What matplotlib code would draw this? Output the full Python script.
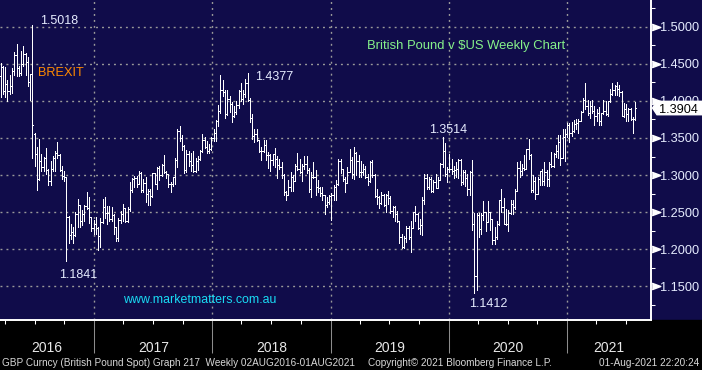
import matplotlib
matplotlib.use("Agg")
import matplotlib.pyplot as plt
import matplotlib.dates as mdates
from matplotlib import font_manager
from matplotlib.patches import Polygon, Rectangle
from matplotlib.ticker import FormatStrFormatter
from matplotlib.transforms import blended_transform_factory, IdentityTransform, ScaledTranslation
import numpy as np
import pandas as pd

# ---------------- data (weekly OHLC, weeks ending Friday) ----------------
first_week = "2016-03-18"

ohlc_2016 = [
    (1.4340, 1.4515, 1.4055, 1.4460), (1.4460, 1.4465, 1.4087, 1.4128), (1.4128, 1.4459, 1.4055, 1.4225),
    (1.4225, 1.4285, 1.4005, 1.4135), (1.4135, 1.4345, 1.4090, 1.4195), (1.4195, 1.4445, 1.4110, 1.4405),
    (1.4405, 1.4660, 1.4355, 1.4615), (1.4615, 1.4770, 1.4330, 1.4440), (1.4440, 1.4470, 1.4330, 1.4370),
    (1.4370, 1.4670, 1.4355, 1.4500), (1.4500, 1.4740, 1.4475, 1.4630), (1.4630, 1.4640, 1.4350, 1.4520),
    (1.4520, 1.4590, 1.4205, 1.4255), (1.4255, 1.4365, 1.4013, 1.4360), (1.4360, 1.5018, 1.3229, 1.3680),
    (1.3560, 1.3565, 1.3122, 1.3280), (1.3280, 1.3380, 1.2798, 1.2950), (1.2950, 1.3480, 1.2930, 1.3185),
    (1.3185, 1.3290, 1.3060, 1.3110), (1.3110, 1.3245, 1.3060, 1.3230), (1.3230, 1.3370, 1.3020, 1.3070),
    (1.3070, 1.3075, 1.2865, 1.2920), (1.2920, 1.3185, 1.2865, 1.3080), (1.3080, 1.3255, 1.3055, 1.3230),
    (1.3230, 1.3325, 1.3055, 1.3300), (1.3300, 1.3445, 1.3225, 1.3265), (1.3265, 1.3285, 1.3050, 1.3070),
    (1.3070, 1.3120, 1.2945, 1.2990), (1.2990, 1.3055, 1.2915, 1.2970), (1.2970, 1.2975, 1.1841, 1.2430),
    (1.2430, 1.2450, 1.2085, 1.2190), (1.2190, 1.2340, 1.2135, 1.2230), (1.2230, 1.2295, 1.2080, 1.2190),
    (1.2190, 1.2505, 1.2180, 1.2480), (1.2480, 1.2675, 1.2300, 1.2590), (1.2590, 1.2595, 1.2305, 1.2385),
    (1.2385, 1.2525, 1.2320, 1.2475), (1.2475, 1.2600, 1.2385, 1.2585), (1.2585, 1.2775, 1.2545, 1.2555),
    (1.2555, 1.2705, 1.2350, 1.2430), (1.2430, 1.2440, 1.2250, 1.2280), (1.2280, 1.2390, 1.2200, 1.2340),
]

ohlc_2017 = [
    (1.2340, 1.2430, 1.2200, 1.2280), (1.2280, 1.2300, 1.1986, 1.2180), (1.2180, 1.2415, 1.2030, 1.2370),
    (1.2370, 1.2675, 1.2360, 1.2565), (1.2565, 1.2705, 1.2420, 1.2485), (1.2485, 1.2580, 1.2345, 1.2485),
    (1.2485, 1.2585, 1.2385, 1.2410), (1.2410, 1.2570, 1.2385, 1.2460), (1.2460, 1.2480, 1.2210, 1.2295),
    (1.2295, 1.2300, 1.2110, 1.2155), (1.2155, 1.2415, 1.2110, 1.2400), (1.2400, 1.2510, 1.2355, 1.2475),
    (1.2475, 1.2615, 1.2375, 1.2550), (1.2550, 1.2555, 1.2365, 1.2380), (1.2380, 1.2565, 1.2365, 1.2540),
    (1.2540, 1.2905, 1.2515, 1.2805), (1.2805, 1.2965, 1.2775, 1.2950), (1.2950, 1.2990, 1.2845, 1.2960),
    (1.2960, 1.2990, 1.2845, 1.2885), (1.2885, 1.3050, 1.2875, 1.3030), (1.3030, 1.3045, 1.2775, 1.2800),
    (1.2800, 1.2945, 1.2765, 1.2890), (1.2890, 1.2975, 1.2635, 1.2740), (1.2740, 1.2810, 1.2590, 1.2780),
    (1.2780, 1.2815, 1.2590, 1.2720), (1.2720, 1.3030, 1.2710, 1.3025), (1.3025, 1.3030, 1.2880, 1.2885),
    (1.2885, 1.3110, 1.2810, 1.3095), (1.3095, 1.3125, 1.2930, 1.3000), (1.3000, 1.3155, 1.2990, 1.3135),
    (1.3135, 1.3265, 1.3030, 1.3035), (1.3035, 1.3060, 1.2955, 1.3010), (1.3010, 1.3015, 1.2840, 1.2875),
    (1.2875, 1.2905, 1.2775, 1.2880), (1.2880, 1.2980, 1.2855, 1.2975), (1.2975, 1.3225, 1.2885, 1.3200),
    (1.3200, 1.3615, 1.3110, 1.3590), (1.3590, 1.3655, 1.3455, 1.3495), (1.3495, 1.3540, 1.3340, 1.3395),
    (1.3395, 1.3400, 1.3025, 1.3065), (1.3065, 1.3340, 1.3035, 1.3285), (1.3285, 1.3320, 1.3120, 1.3190),
    (1.3190, 1.3300, 1.3060, 1.3135), (1.3135, 1.3320, 1.3040, 1.3060), (1.3060, 1.3225, 1.3040, 1.3190),
    (1.3190, 1.3260, 1.3070, 1.3210), (1.3210, 1.3335, 1.3200, 1.3330), (1.3330, 1.3550, 1.3310, 1.3475),
    (1.3475, 1.3515, 1.3365, 1.3385), (1.3385, 1.3460, 1.3300, 1.3325), (1.3325, 1.3425, 1.3300, 1.3355),
    (1.3355, 1.3515, 1.3340, 1.3505),
]

ohlc_2018 = [
    (1.3505, 1.3615, 1.3460, 1.3570), (1.3570, 1.3745, 1.3460, 1.3725), (1.3725, 1.3945, 1.3655, 1.3860),
    (1.3860, 1.4345, 1.3835, 1.4150), (1.4150, 1.4285, 1.4065, 1.4115), (1.4115, 1.4145, 1.3765, 1.3820),
    (1.3820, 1.4145, 1.3815, 1.4025), (1.4025, 1.4070, 1.3855, 1.3960), (1.3960, 1.3985, 1.3710, 1.3800),
    (1.3800, 1.3930, 1.3785, 1.3850), (1.3850, 1.4000, 1.3820, 1.3940), (1.3940, 1.4150, 1.3910, 1.4140),
    (1.4140, 1.4245, 1.3995, 1.4025), (1.4025, 1.4150, 1.3965, 1.4090), (1.4090, 1.4295, 1.4050, 1.4235),
    (1.4235, 1.4377, 1.4005, 1.4010), (1.4010, 1.4040, 1.3710, 1.3775), (1.3775, 1.3830, 1.3485, 1.3530),
    (1.3530, 1.3615, 1.3450, 1.3550), (1.3550, 1.3615, 1.3455, 1.3470), (1.3470, 1.3475, 1.3305, 1.3320),
    (1.3320, 1.3380, 1.3205, 1.3325), (1.3325, 1.3475, 1.3310, 1.3410), (1.3410, 1.3475, 1.3205, 1.3265),
    (1.3265, 1.3315, 1.3100, 1.3265), (1.3265, 1.3290, 1.3050, 1.3205), (1.3205, 1.3285, 1.3130, 1.3280),
    (1.3280, 1.3365, 1.3105, 1.3215), (1.3215, 1.3260, 1.2955, 1.3135), (1.3135, 1.3215, 1.3075, 1.3105),
    (1.3105, 1.3175, 1.2955, 1.3005), (1.3005, 1.3015, 1.2725, 1.2770), (1.2770, 1.2790, 1.2660, 1.2735),
    (1.2735, 1.2935, 1.2725, 1.2840), (1.2840, 1.3045, 1.2785, 1.2970), (1.2970, 1.3000, 1.2785, 1.2925),
    (1.2925, 1.3145, 1.2920, 1.3125), (1.3125, 1.3300, 1.3070, 1.3080), (1.3080, 1.3215, 1.3030, 1.3035),
    (1.3035, 1.3145, 1.2920, 1.3120), (1.3120, 1.3260, 1.3080, 1.3150), (1.3150, 1.3255, 1.3025, 1.3070),
    (1.3070, 1.3090, 1.2775, 1.2815), (1.2815, 1.3040, 1.2710, 1.2975), (1.2975, 1.3175, 1.2955, 1.2970),
    (1.2970, 1.3070, 1.2725, 1.2835), (1.2835, 1.2930, 1.2775, 1.2820), (1.2820, 1.2840, 1.2715, 1.2760),
    (1.2760, 1.2840, 1.2660, 1.2730), (1.2730, 1.2735, 1.2475, 1.2590), (1.2590, 1.2700, 1.2570, 1.2630),
    (1.2630, 1.2725, 1.2605, 1.2720),
]

ohlc_2019 = [
    (1.2720, 1.2760, 1.2391, 1.2725), (1.2725, 1.2865, 1.2670, 1.2840), (1.2840, 1.2930, 1.2670, 1.2880),
    (1.2880, 1.3215, 1.2865, 1.3190), (1.3190, 1.3220, 1.3030, 1.3075), (1.3075, 1.3085, 1.2920, 1.2940),
    (1.2940, 1.2980, 1.2775, 1.2890), (1.2890, 1.3110, 1.2890, 1.3045), (1.3045, 1.3350, 1.3045, 1.3200),
    (1.3200, 1.3240, 1.2960, 1.3010), (1.3010, 1.3380, 1.2945, 1.3300), (1.3300, 1.3305, 1.3005, 1.3190),
    (1.3190, 1.3265, 1.2975, 1.3035), (1.3035, 1.3195, 1.2975, 1.3040), (1.3040, 1.3150, 1.3000, 1.3075),
    (1.3075, 1.3120, 1.2960, 1.2975), (1.2975, 1.3010, 1.2865, 1.2915), (1.2915, 1.3195, 1.2905, 1.3180),
    (1.3180, 1.3200, 1.2975, 1.3005), (1.3005, 1.3020, 1.2705, 1.2715), (1.2715, 1.2815, 1.2605, 1.2710),
    (1.2710, 1.2715, 1.2560, 1.2625), (1.2625, 1.2765, 1.2615, 1.2735), (1.2735, 1.2745, 1.2585, 1.2590),
    (1.2590, 1.2750, 1.2505, 1.2735), (1.2735, 1.2785, 1.2605, 1.2695), (1.2695, 1.2720, 1.2485, 1.2520),
    (1.2520, 1.2580, 1.2440, 1.2575), (1.2575, 1.2580, 1.2380, 1.2475), (1.2475, 1.2520, 1.2365, 1.2375),
    (1.2375, 1.2385, 1.2080, 1.2165), (1.2165, 1.2210, 1.2015, 1.2030), (1.2030, 1.2175, 1.2015, 1.2150),
    (1.2150, 1.2310, 1.2100, 1.2280), (1.2280, 1.2310, 1.2140, 1.2165), (1.2165, 1.2385, 1.1960, 1.2290),
    (1.2290, 1.2500, 1.2285, 1.2495), (1.2495, 1.2585, 1.2380, 1.2475), (1.2475, 1.2490, 1.2270, 1.2290),
    (1.2290, 1.2405, 1.2205, 1.2330), (1.2330, 1.2710, 1.2195, 1.2660), (1.2660, 1.3010, 1.2610, 1.2960),
    (1.2960, 1.3010, 1.2815, 1.2835), (1.2835, 1.2975, 1.2815, 1.2945), (1.2945, 1.2975, 1.2770, 1.2780),
    (1.2780, 1.2930, 1.2770, 1.2900), (1.2900, 1.3010, 1.2820, 1.2830), (1.2830, 1.2975, 1.2825, 1.2935),
    (1.2935, 1.3165, 1.2935, 1.3150), (1.3150, 1.3514, 1.3105, 1.3330), (1.3330, 1.3435, 1.2990, 1.3015),
    (1.3015, 1.3115, 1.2905, 1.3075),
]

ohlc_2020 = [
    (1.3075, 1.3285, 1.3040, 1.3080), (1.3080, 1.3210, 1.3010, 1.3060), (1.3060, 1.3120, 1.2955, 1.3070),
    (1.3070, 1.3175, 1.2975, 1.3075), (1.3075, 1.3210, 1.2960, 1.3200), (1.3200, 1.3210, 1.2870, 1.2900),
    (1.2900, 1.3070, 1.2875, 1.3045), (1.3045, 1.3070, 1.2850, 1.2960), (1.2960, 1.3015, 1.2725, 1.2815),
    (1.2815, 1.3060, 1.2725, 1.3045), (1.3045, 1.3200, 1.2260, 1.2340), (1.2340, 1.2485, 1.1412, 1.1635),
    (1.1635, 1.2485, 1.1450, 1.2460), (1.2460, 1.2485, 1.2165, 1.2270), (1.2270, 1.2485, 1.2205, 1.2455),
    (1.2455, 1.2645, 1.2400, 1.2495), (1.2495, 1.2500, 1.2250, 1.2365), (1.2365, 1.2645, 1.2365, 1.2495),
    (1.2495, 1.2500, 1.2265, 1.2405), (1.2405, 1.2410, 1.2075, 1.2125), (1.2125, 1.2295, 1.2075, 1.2165),
    (1.2165, 1.2380, 1.2140, 1.2345), (1.2345, 1.2670, 1.2330, 1.2665), (1.2665, 1.2815, 1.2500, 1.2565),
    (1.2565, 1.2690, 1.2335, 1.2345), (1.2345, 1.2545, 1.2330, 1.2335), (1.2335, 1.2530, 1.2250, 1.2485),
    (1.2485, 1.2670, 1.2475, 1.2615), (1.2615, 1.2670, 1.2480, 1.2565), (1.2565, 1.2815, 1.2545, 1.2790),
    (1.2790, 1.3170, 1.2780, 1.3095), (1.3095, 1.3185, 1.2980, 1.3055), (1.3055, 1.3145, 1.3000, 1.3090),
    (1.3090, 1.3265, 1.3065, 1.3085), (1.3085, 1.3355, 1.3075, 1.3350), (1.3350, 1.3480, 1.3210, 1.3275),
    (1.3275, 1.3285, 1.2765, 1.2795), (1.2795, 1.3005, 1.2765, 1.2915), (1.2915, 1.2980, 1.2675, 1.2745),
    (1.2745, 1.2975, 1.2745, 1.2940), (1.2940, 1.3060, 1.2865, 1.3050), (1.3050, 1.3085, 1.2865, 1.2915),
    (1.2915, 1.3175, 1.2865, 1.3045), (1.3045, 1.3065, 1.2855, 1.2945), (1.2945, 1.3175, 1.2855, 1.3150),
    (1.3150, 1.3315, 1.3105, 1.3120), (1.3120, 1.3300, 1.3105, 1.3280), (1.3280, 1.3400, 1.3245, 1.3320),
    (1.3320, 1.3540, 1.3225, 1.3440), (1.3440, 1.3540, 1.3135, 1.3235), (1.3235, 1.3625, 1.3225, 1.3515),
    (1.3515, 1.3625, 1.3190, 1.3555),
]

ohlc_2021 = [
    (1.3555, 1.3705, 1.3510, 1.3670), (1.3670, 1.3705, 1.3450, 1.3565), (1.3565, 1.3710, 1.3520, 1.3595),
    (1.3595, 1.3745, 1.3580, 1.3685), (1.3685, 1.3760, 1.3625, 1.3705), (1.3705, 1.3760, 1.3565, 1.3735),
    (1.3735, 1.3865, 1.3725, 1.3850), (1.3850, 1.4035, 1.3845, 1.4015), (1.4015, 1.4241, 1.3885, 1.3935),
    (1.3935, 1.4015, 1.3810, 1.3840), (1.3840, 1.4000, 1.3775, 1.3925), (1.3925, 1.4015, 1.3835, 1.3865),
    (1.3865, 1.3925, 1.3670, 1.3795), (1.3795, 1.3885, 1.3735, 1.3835), (1.3835, 1.3920, 1.3670, 1.3730),
    (1.3730, 1.3835, 1.3670, 1.3835), (1.3835, 1.4010, 1.3825, 1.3870), (1.3870, 1.4005, 1.3805, 1.3820),
    (1.3820, 1.4005, 1.3800, 1.3995), (1.3995, 1.4165, 1.3985, 1.4095), (1.4095, 1.4235, 1.4080, 1.4150),
    (1.4150, 1.4220, 1.4080, 1.4195), (1.4195, 1.4249, 1.4085, 1.4160), (1.4160, 1.4220, 1.4070, 1.4115),
    (1.4115, 1.4135, 1.3790, 1.3800), (1.3800, 1.3975, 1.3785, 1.3885), (1.3885, 1.3955, 1.3735, 1.3820),
    (1.3820, 1.3910, 1.3735, 1.3895), (1.3895, 1.3905, 1.3745, 1.3760), (1.3760, 1.3785, 1.3572, 1.3750),
    (1.3750, 1.3985, 1.3745, 1.3904),
]

price_levels = [1.15, 1.20, 1.25, 1.30, 1.35, 1.40, 1.45, 1.50]
minor_levels = [1.125, 1.175, 1.225, 1.275, 1.325, 1.375, 1.425, 1.475, 1.525]
year_labels = ["2016", "2017", "2018", "2019", "2020", "2021"]

# labelled extremes: (week ending, value shown)
peak_notes = [("2016-06-24", 1.5018), ("2016-10-07", 1.1841), ("2018-04-20", 1.4377),
              ("2019-12-13", 1.3514), ("2020-03-20", 1.1412)]
last_price = 1.3904

title_text = "British Pound v $US Weekly Chart"
site_text = "www.marketmatters.com.au"
event_text = "BREXIT"
footer_left = "GBP Curncy (British Pound Spot) Graph 217  Weekly 02AUG2016-01AUG2021"
footer_mid = "Copyright\u00a9 2021 Bloomberg Finance L.P."
footer_right = "01-Aug-2021 22:20:24"

# ---------------- style ----------------
NAVY = "#100c4a"
GRID = "#9a9a9a"
LABEL = "#e6ecff"
avail = {f.name for f in font_manager.fontManager.ttflist}
MAIN = "Liberation Sans" if "Liberation Sans" in avail else "DejaVu Sans"
NARROW = "Liberation Sans Narrow" if "Liberation Sans Narrow" in avail else MAIN
narrow_scale = 1.22 if NARROW != MAIN else 1.0

W, H = 702, 370
fig = plt.figure(figsize=(W / 100, H / 100), dpi=100)
fig.patch.set_facecolor(NAVY)
fig.add_artist(Rectangle((0, 0), 1, 50 / H, transform=fig.transFigure, color="black", zorder=-10))

ax = fig.add_axes([0, 50 / H, 651 / W, 320 / H])
ax.set_facecolor(NAVY)

rows = ohlc_2016 + ohlc_2017 + ohlc_2018 + ohlc_2019 + ohlc_2020 + ohlc_2021
df = pd.DataFrame(rows, columns=["open", "high", "low", "close"])
df["date"] = pd.date_range(first_week, periods=len(df), freq="7D")
x = mdates.date2num(df["date"])
tick = 3.1  # days (about one pixel)
bar_kw = dict(color="white", lw=0.5, antialiased=False)
ax.vlines(x, df["low"], df["high"], **bar_kw)
ax.hlines(df["open"], x - tick, x, **bar_kw)
ax.hlines(df["close"], x, x + tick, **bar_kw)

xmin, xmax = mdates.date2num(pd.Timestamp("2016-03-16")), mdates.date2num(pd.Timestamp("2021-09-17"))
ax.set_xlim(xmin, xmax)
ax.set_ylim(1.1045, 1.5361)

for s in ["top", "left"]:
    ax.spines[s].set_visible(False)
for s in ["bottom", "right"]:
    ax.spines[s].set_color("white")
    ax.spines[s].set_linewidth(1.4)

ax.yaxis.tick_right()
ax.set_yticks(price_levels)
ax.set_yticks(minor_levels, minor=True)
ax.yaxis.set_major_formatter(FormatStrFormatter("%.4f"))
ax.tick_params(axis="y", which="major", length=0, pad=6.8, labelcolor=LABEL, labelsize=9.2)
for t in ax.get_yticklabels():
    t.set_fontfamily(MAIN)
ax.tick_params(axis="y", which="minor", length=2.9, width=0.75, color="white", direction="out")

ax.xaxis.set_major_locator(mdates.YearLocator())
ax.xaxis.set_minor_locator(mdates.MonthLocator(bymonth=[4, 7, 10]))
ax.tick_params(axis="x", which="major", length=23.8, width=0.75, color="#8c8c8c", labelbottom=False)
ax.tick_params(axis="x", which="minor", length=2.9, width=0.75, color="white")
ax.grid(which="major", axis="both", color=GRID, linestyle=(0, (1.4, 2.9)), linewidth=1.0)
ax.set_axisbelow(True)

# triangles at price levels on the right axis
tri = [(-1, -0.75), (1, 0), (-1, 0.75)]
ttrans = blended_transform_factory(ax.transAxes, ax.transData) + ScaledTranslation(0.045, 0, fig.dpi_scale_trans)
ax.plot(np.ones(len(price_levels)), price_levels, ls="none", marker=tri, markersize=6.2,
        color="white", transform=ttrans, clip_on=False)

# year labels centred in visible span of each year
btrans = blended_transform_factory(ax.transData, ax.transAxes)
for yl in year_labels:
    a = max(mdates.date2num(pd.Timestamp(f"{yl}-01-01")), xmin)
    b = min(mdates.date2num(pd.Timestamp(f"{int(yl)+1}-01-01")), xmax)
    ax.text((a + b) / 2, -0.099, yl, transform=btrans, ha="center", va="baseline",
            color="#e8e8e8", fontsize=10 * narrow_scale, family=NARROW, clip_on=False)

# annotations of extremes
offsets = [(26.4, 1.1), (12, -17), (26.4, -6.7), (5.3, 3.9), (14.5, -14.2)]
for (d, v), (dx, dy) in zip(peak_notes, offsets):
    ax.annotate(f"{v:.4f}", xy=(mdates.date2num(pd.Timestamp(d)), v), xytext=(dx * 0.72, dy * 0.72),
                textcoords="offset points", ha="center", va="baseline", color=LABEL,
                fontsize=9, family=MAIN)
ax.annotate(event_text, xy=(mdates.date2num(pd.Timestamp(peak_notes[0][0])), peak_notes[0][1]),
            xytext=(28.7 * 0.72, -50.5 * 0.72), textcoords="offset points", ha="center", va="baseline",
            color="#ff8a00", fontsize=9.2, family=MAIN)

ax.text(466 / 651, 1 - 49.3 / 320, title_text, transform=ax.transAxes, ha="center", va="baseline",
        color="#86f28a", fontsize=9.4, family=MAIN)
ax.text(200 / 651, 1 - 302.7 / 320, site_text, transform=ax.transAxes, ha="center", va="baseline",
        color="#19dcf5", fontsize=8.9, family=MAIN)

# last price tag
fig.canvas.draw()
yc = ax.transData.transform((xmin, last_price))[1]
tag = Polygon([(652.5, yc), (657, yc + 6.7), (702, yc + 6.7), (702, yc - 6.7), (657, yc - 6.7)],
              closed=True, transform=IdentityTransform(), facecolor="white", edgecolor="white", zorder=20)
fig.add_artist(tag)
fig.text(678 / W, yc / H, f"{last_price:.4f}", ha="center", va="center_baseline", color="black",
         fontsize=9.2, family=MAIN, zorder=21)

# footer
fy = (H - 366) / H
fs_foot = 7.2 * narrow_scale
fig.text(2 / W, fy, footer_left, ha="left", va="baseline", color="#d8d8d8", fontsize=fs_foot, family=NARROW)
fig.text(552 / W, fy, footer_mid, ha="right", va="baseline", color="#d8d8d8", fontsize=fs_foot, family=NARROW)
fig.text(699 / W, fy, footer_right, ha="right", va="baseline", color="#d8d8d8", fontsize=fs_foot, family=NARROW)

fig.savefig("out.png", dpi=100, facecolor=fig.get_facecolor())
